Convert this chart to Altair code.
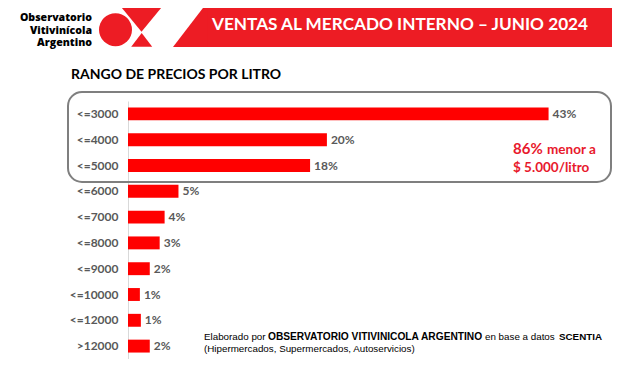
import altair as alt
import pandas as pd

# ---- data ----
rangos = ["<=3000", "<=4000", "<=5000", "<=6000", "<=7000", "<=8000",
          "<=9000", "<=10000", "<=12000", ">12000"]
valores = [42.5, 20.1, 18.4, 5.1, 3.7, 3.2, 2.2, 1.2, 1.3, 2.2]
etiquetas = ["43%", "20%", "18%", "5%", "4%", "3%", "2%", "1%", "1%", "2%"]

titulo = "VENTAS AL MERCADO INTERNO \u2013 JUNIO 2024"
subtitulo = "RANGO DE PRECIOS POR LITRO"
logo_lineas = ["Observatorio", "Vitivin\u00edcola", "Argentino"]

RED = "#ED1C24"
BAR = "#FF0000"
GRAY = "#595959"
ANN = "#E8192C"

df = pd.DataFrame({"rango": rangos, "valor": valores, "etiqueta": etiquetas})
one = pd.DataFrame({"k": [0]})

# page position of the plot origin (8px page margin + padding)
OX, OY = 128, 101


def px(x):
    return x - OX


def py(y):
    return y - OY


def rect(x1, y1, x2, y2, **kw):
    return alt.Chart(one).mark_rect(**kw).encode(
        x=alt.value(px(x1)), x2=alt.value(px(x2)),
        y=alt.value(py(y1)), y2=alt.value(py(y2)))


def sym(cx, cy, shape, size, color):
    return alt.Chart(one).mark_point(
        shape=shape, size=size, filled=True, color=color, opacity=1, strokeWidth=0
    ).encode(x=alt.value(px(cx)), y=alt.value(py(cy)))


def txt(x, y, s, align="left", font="Lato", size=12, weight="bold", color="black"):
    return alt.Chart(one).mark_text(
        text=s, align=align, baseline="middle", font=font, fontSize=size,
        fontWeight=weight, color=color
    ).encode(x=alt.value(px(x)), y=alt.value(py(y)))


base = alt.Chart(df)
yenc = alt.Y(
    "rango:N", sort=rangos,
    scale=alt.Scale(paddingInner=0.5, paddingOuter=0.25),
    axis=alt.Axis(title=None, ticks=False, grid=False, labelFont="Lato",
                  labelFontWeight="bold", labelFontSize=12, labelColor=GRAY,
                  labelPadding=10, domainColor="#D9D9D9", domainWidth=1),
)
xenc = alt.X("valor:Q", scale=alt.Scale(domain=[0, 48], nice=False), axis=None)

bars = base.mark_bar(color=BAR).encode(x=xenc, y=yenc)
labels = base.mark_text(
    align="left", baseline="middle", dx=4, font="Lato", fontWeight="bold",
    fontSize=12, color=GRAY
).encode(x=xenc, y=yenc, text="etiqueta:N")

FOOT = "Liberation Sans"

layers = [
    # header banner
    rect(206, 2, 640, 47, color=RED),
    sym(190, 24.5, "M 0.78 -1 L 0.78 1 L -0.756 1 Z", 2025, RED),
    txt(400, 25, titulo, align="center", size=17.2, color="white"),
    # logo
    sym(115.5, 29.7, "circle", 1089, RED),
    sym(141.5, 17, "M -0.98 -0.6 L 0.98 -0.6 L 0 0.59 Z", 2500, RED),
    sym(141.7, 40, "M 0 -0.56 L 0.84 0.54 L -0.84 0.54 Z", 625, RED),
    txt(92, 18, logo_lineas[0], align="right", font="Open Sans", size=10.6, weight=800),
    txt(92, 30.5, logo_lineas[1], align="right", font="Open Sans", size=10.6, weight=800),
    txt(92, 43, logo_lineas[2], align="right", font="Open Sans", size=10.6, weight=800),
    # subtitle
    txt(71, 74.5, subtitulo, size=14),
    # rounded box
    rect(68, 92, 611, 182, fill=None, fillOpacity=0, stroke="#7F7F7F",
         strokeWidth=2, cornerRadius=14),
    bars,
    labels,
    # annotation
    txt(513, 149, "86%", size=15, color=ANN),
    txt(547, 149.5, "menor a", size=13.5, color=ANN),
    txt(513, 168, "$ 5.000/litro", size=13.5, color=ANN),
    # footer
    txt(204, 337, "Elaborado por", font=FOOT, size=9.8, weight="normal"),
    txt(268, 337, "OBSERVATORIO VITIVINICOLA ARGENTINO", font=FOOT, size=10.2),
    txt(485, 337, "en base a datos", font=FOOT, size=9.8, weight="normal"),
    txt(559, 337, "SCENTIA", font=FOOT, size=9.8),
    txt(204, 349, "(Hipermercados, Supermercados, Autoservicios)",
        font=FOOT, size=9.8, weight="normal"),
]

chart = alt.layer(*layers).properties(
    width=475, height=258,
    padding={"left": 120, "top": 93, "right": 9, "bottom": 0},
    autosize="none",
).configure_view(strokeWidth=0)

chart.save("out.html", embed_options={"renderer": "svg", "actions": False})
